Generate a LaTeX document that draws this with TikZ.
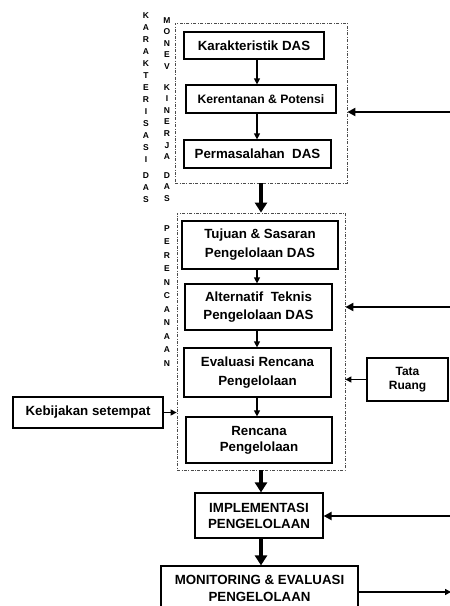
\documentclass[tikz,border=0pt]{standalone}
\usepackage{fontspec}
\setmainfont{Liberation Sans}
\usetikzlibrary{arrows.meta}
\begin{document}
\begin{tikzpicture}[x=1pt,y=-1pt,
  box/.style={draw,line width=1.2pt,rectangle,inner sep=0pt,align=center,font=\bfseries\fontsize{13.3}{18}\selectfont},
  grp/.style={draw=black!70,line width=0.8pt,dash pattern=on 3pt off 1.5pt on 0.8pt off 1.5pt,inner sep=0pt},
  vlab/.style={inner sep=0pt,align=center,anchor=north},
  arrthin/.style={line width=1.2pt,-{Triangle[length=6pt,width=6pt]}},
  arrthick/.style={line width=3.4pt,-{Triangle[length=10pt,width=12pt]}},
  feed/.style={line width=2.6pt,-{Triangle[length=8pt,width=8pt]}},
  side/.style={line width=1.3pt,-{Triangle[length=6pt,width=6pt]}}
]
\fill[white] (0,0) rectangle (450,606);
\useasboundingbox (0,0) rectangle (450,606);

% groups
\node[grp,minimum width=172pt,minimum height=160pt] (g1) at (261,103) {};
\node[grp,minimum width=168pt,minimum height=257pt] (g2) at (261,341.5) {};

% boxes
\node[box,minimum width=140pt,minimum height=27pt] (kar) at (254,45.5) {Karakteristik DAS};
\node[box,font=\bfseries\fontsize{12.2}{16}\selectfont,minimum width=150pt,minimum height=28pt] (ker) at (261,99) {Kerentanan \& Potensi};
\node[box,minimum width=147pt,minimum height=28pt] (per) at (257.5,154) {Permasalahan\ \ DAS};
\node[box,font=\bfseries\fontsize{13.3}{19}\selectfont,minimum width=156pt,minimum height=48pt] (tuj) at (260,245) {Tujuan \& Sasaran\\Pengelolaan DAS};
\node[box,minimum width=147pt,minimum height=46pt] (alt) at (258.5,307) {Alternatif\ \ Teknis\\Pengelolaan DAS};
\node[box,font=\bfseries\fontsize{13.3}{19}\selectfont,minimum width=147pt,minimum height=49pt] (eva) at (257.5,372.5) {Evaluasi Rencana\\Pengelolaan};
\node[box,font=\bfseries\fontsize{13.3}{16}\selectfont,minimum width=146pt,minimum height=46pt] (ren) at (259,440) {Rencana\\Pengelolaan};
\node[box,minimum width=150pt,minimum height=31pt] (keb) at (88,412.5) {Kebijakan setempat};
\node[box,font=\bfseries\fontsize{12}{14}\selectfont,minimum width=81pt,minimum height=43pt] (tata) at (407.5,379.5) {Tata\\Ruang};
\node[box,font=\bfseries\fontsize{13.3}{16}\selectfont,minimum width=128pt,minimum height=45pt] (imp) at (259,515.5) {IMPLEMENTASI\\PENGELOLAAN};
\node[box,font=\bfseries\fontsize{13.3}{17}\selectfont,minimum width=197pt,minimum height=45pt] (mon) at (259.5,588.5) {MONITORING \& EVALUASI\\PENGELOLAAN};

% vertical labels
\node[vlab,font=\bfseries\fontsize{8.5}{12}\selectfont] (lk) at (146,12) {K\\A\\R\\A\\K\\T\\E\\R\\I\\S\\A\\S\\I\\[4pt]D\\A\\S};
\node[vlab,font=\bfseries\fontsize{8.5}{11.6}\selectfont] (lm) at (167,17) {M\\O\\N\\E\\V\\[9pt]K\\I\\N\\E\\R\\J\\A\\[7pt]D\\A\\S};
\node[vlab,font=\bfseries\fontsize{8.5}{13.5}\selectfont] (lp) at (167,225) {P\\E\\R\\E\\N\\C\\A\\N\\A\\A\\N};

% column coordinates
\coordinate (cx) at (257,0);
\coordinate (tx) at (261,0);

% thin arrows
\draw[arrthin] (kar.south -| cx) -- (ker.north -| cx);
\draw[arrthin] (ker.south -| cx) -- (per.north -| cx);
\draw[arrthin] (tuj.south -| cx) -- (alt.north -| cx);
\draw[arrthin] (alt.south -| cx) -- (eva.north -| cx);
\draw[arrthin] (eva.south -| cx) -- (ren.north -| cx);

% thick arrows
\draw[arrthick] (g1.south -| tx) -- (g2.north -| tx);
\draw[arrthick] (g2.south -| tx) -- (imp.north -| tx);
\draw[arrthick] (imp.south -| tx) -- (mon.north -| tx);

% feedback arrows from the right
\coordinate (f1) at (450,112);
\coordinate (f2) at (450,307);
\coordinate (f3) at (450,516);
\coordinate (f4) at (451,592);
\draw[feed] (f1) -- (g1.east |- f1);
\draw[feed] (f2) -- (g2.east |- f2);
\draw[feed] (f3) -- (imp.east |- f3);
\draw[line width=1.6pt,-{Triangle[length=6pt,width=6pt]}] (mon.east |- f4) -- (f4);

% side inputs
\draw[side] (tata.west) -- (g2.east |- tata.west);
\draw[side] (keb.east) -- (g2.west |- keb.east);
\end{tikzpicture}
\end{document}
